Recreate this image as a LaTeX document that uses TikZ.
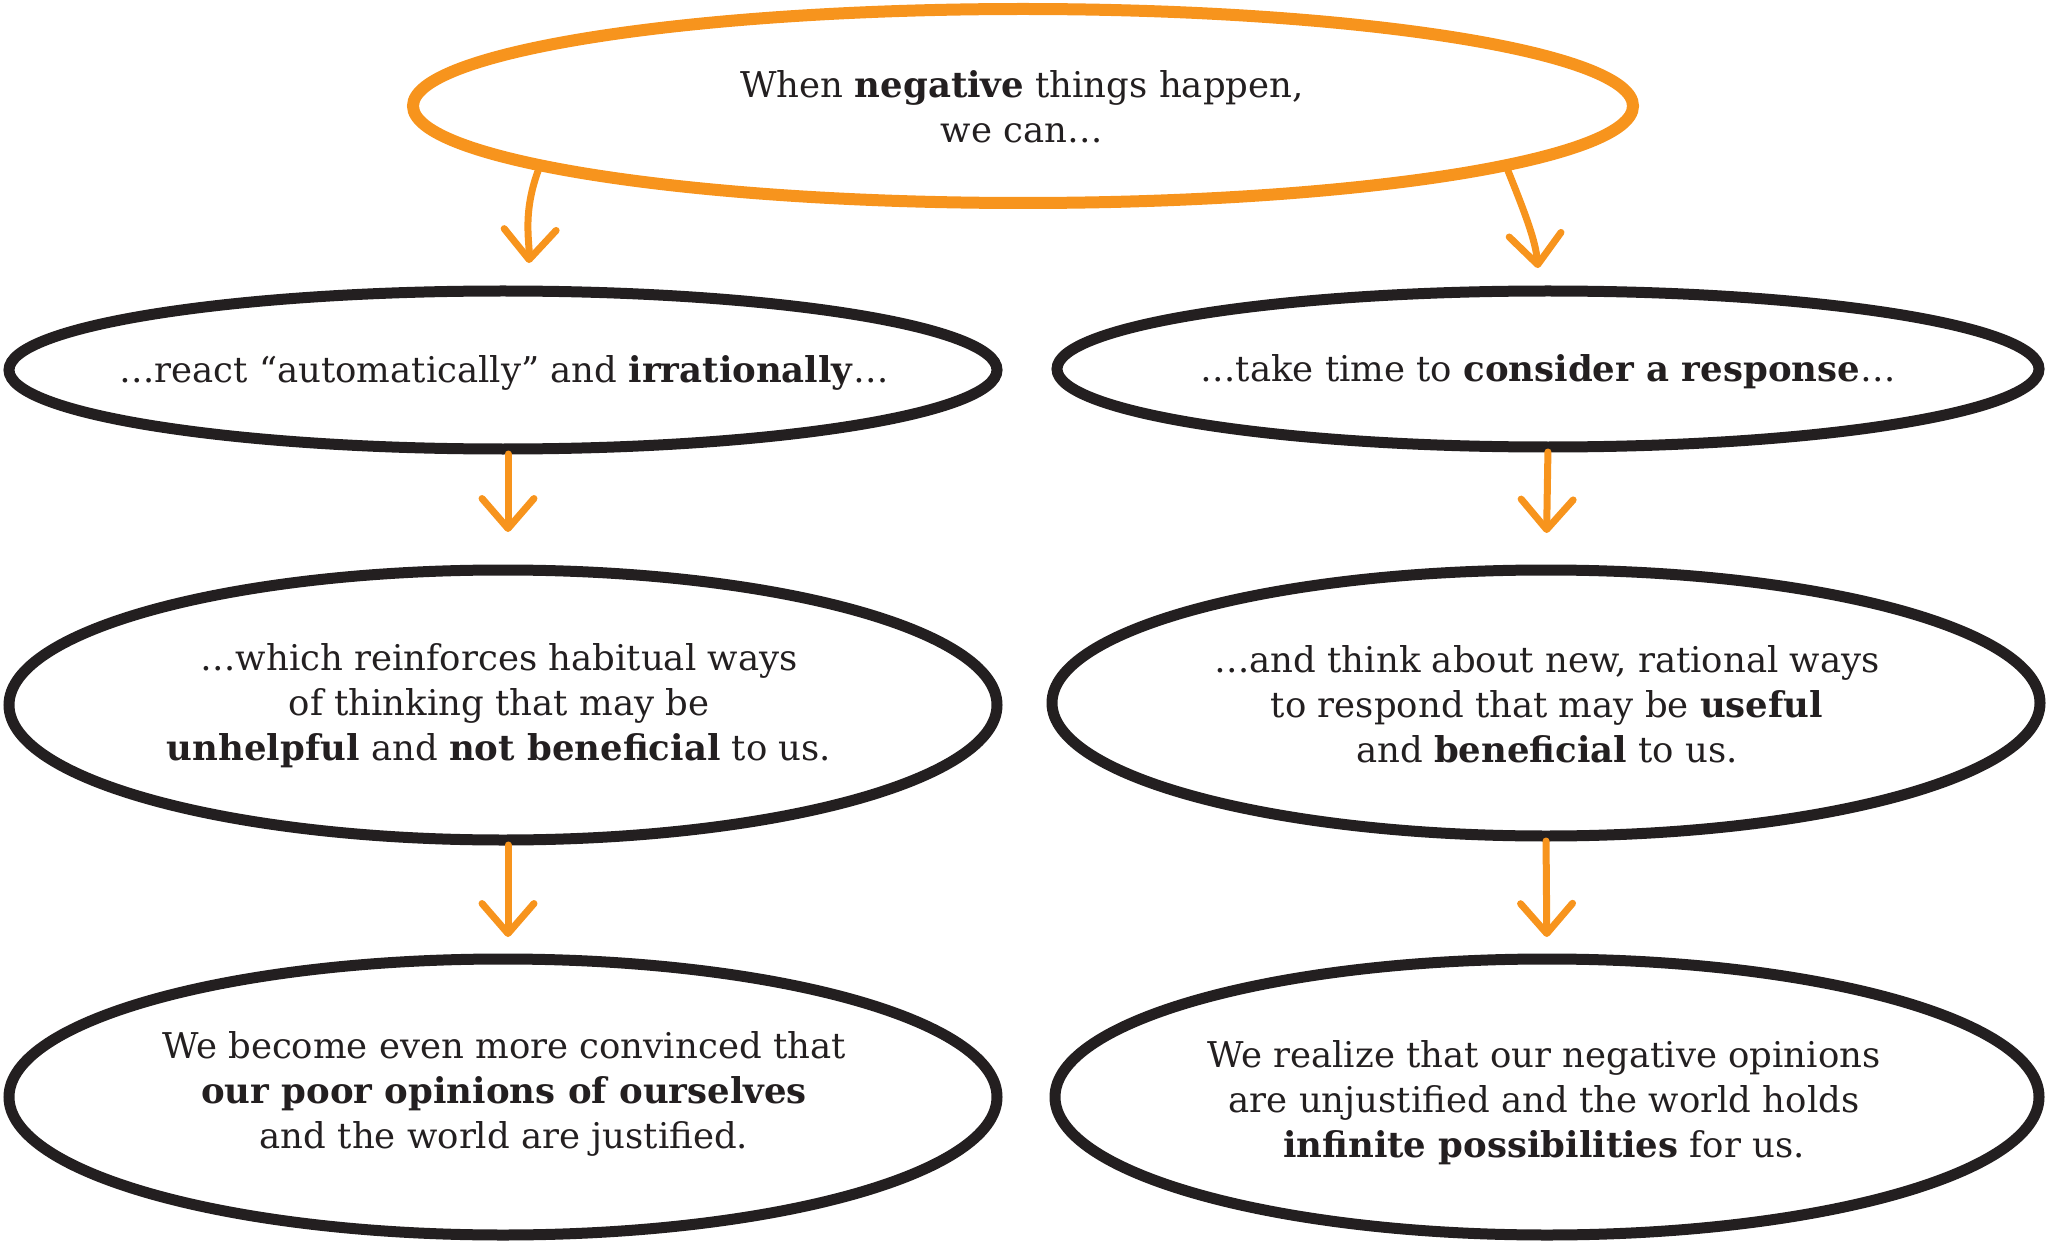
\documentclass[tikz,border=0pt]{standalone}
\usepackage{fontspec}
\setmainfont{DejaVu Serif}
\usetikzlibrary{shapes.geometric,arrows.meta}
\definecolor{orng}{HTML}{F7941D}
\definecolor{ink}{HTML}{231F20}
\begin{document}
\begin{tikzpicture}[x=1pt,y=-1pt,
  oval/.style={ellipse,draw=ink,line width=11pt,inner sep=0pt,outer sep=0pt},
  topoval/.style={ellipse,draw=orng,line width=12pt,inner sep=0pt,outer sep=0pt},
  txt/.style={align=center,text=ink,inner sep=0pt,font=\fontsize{35.5}{45}\selectfont},
  arr/.style={draw=orng,line width=7pt,line cap=round,
    -{Straight Barb[length=30pt,width=52pt,round]}}]
\useasboundingbox (0,0) rectangle (2048,1246);
\node[topoval,minimum width=1220pt,minimum height=194pt] (top) at (1023,106) {};
\node[oval,minimum width=988pt,minimum height=158pt] (r2L) at (503,370) {};
\node[oval,minimum width=982pt,minimum height=156pt] (r2R) at (1548,369) {};
\node[oval,minimum width=988pt,minimum height=270pt] (r3L) at (503,705) {};
\node[oval,minimum width=988pt,minimum height=266pt] (r3R) at (1546,703) {};
\node[oval,minimum width=988pt,minimum height=276pt] (r4L) at (503,1097) {};
\node[oval,minimum width=984pt,minimum height=276pt] (r4R) at (1547,1097) {};

\node[txt] (t0) at (1022,107) {When \textbf{negative} things happen,\\we can…};
\node[txt] (t2L) at (504,373) {…react “automatically” and \textbf{irrationally}…};
\node[txt] (t2R) at (1548,372) {…take time to \textbf{consider a response}…};
\node[txt] (t3L) at (499,706) {…which reinforces habitual ways\\of thinking that may be\\\textbf{unhelpful} and \textbf{not beneficial} to us.};
\node[txt] (t3R) at (1547,704) {…and think about new, rational ways\\to respond that may be \textbf{useful}\\and \textbf{beneficial} to us.};
\node[txt] (t4L) at (504,1094) {We become even more convinced that\\\textbf{our poor opinions of ourselves}\\and the world are justified.};
\node[txt] (t4R) at (1544,1103) {We realize that our negative opinions\\are unjustified and the world holds\\\textbf{infinite possibilities} for us.};

\draw[arr,shorten >=28pt] (top.187) to[out=-112,in=88] ([xshift=25pt]r2L.north);
\draw[arr,shorten >=23pt] (top.-7) to[out=-68,in=95] ([xshift=-8pt]r2R.north);
\draw[arr,shorten <=5pt,shorten >=38pt] ([xshift=5pt]r2L.south) -- ([xshift=5pt]r3L.north);
\draw[arr,shorten <=5pt,shorten >=37pt] (r2R.south) -- (r3R.north);
\draw[arr,shorten <=5pt,shorten >=22pt] ([xshift=5pt]r3L.south) -- ([xshift=5pt]r4L.north);
\draw[arr,shorten <=5pt,shorten >=22pt] (r3R.south) -- (r4R.north);
\end{tikzpicture}
\end{document}
